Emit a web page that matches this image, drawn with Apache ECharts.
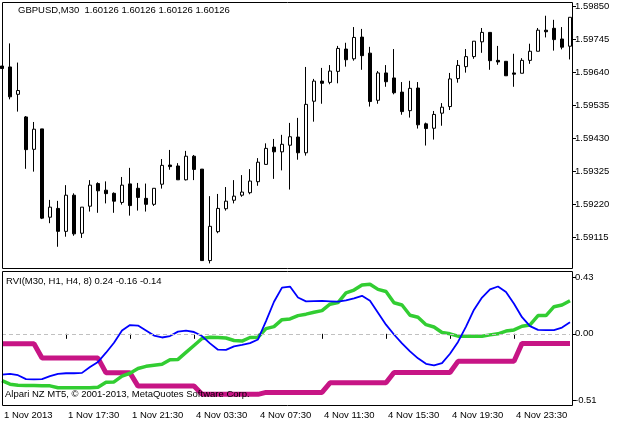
<!DOCTYPE html>
<html>
<head>
<meta charset="utf-8">
<script src="https://cdn.jsdelivr.net/npm/echarts@6/dist/echarts.min.js"></script>
<style>
html,body{margin:0;padding:0;background:#fff;}
#chart{width:621px;height:423px;}
</style>
</head>
<body>
<div id="chart"></div>
<script>
// Bar times (M30), 1 Nov 2013 13:30 .. 5 Nov 2013 03:00
const times = [
"1 Nov 13:30","1 Nov 14:00","1 Nov 14:30","1 Nov 15:00","1 Nov 15:30","1 Nov 16:00","1 Nov 16:30","1 Nov 17:00",
"1 Nov 17:30","1 Nov 18:00","1 Nov 18:30","1 Nov 19:00","1 Nov 19:30","1 Nov 20:00","1 Nov 20:30","1 Nov 21:00",
"1 Nov 21:30","4 Nov 00:00","4 Nov 00:30","4 Nov 01:00","4 Nov 01:30","4 Nov 02:00","4 Nov 02:30","4 Nov 03:00",
"4 Nov 03:30","4 Nov 04:00","4 Nov 04:30","4 Nov 05:00","4 Nov 05:30","4 Nov 06:00","4 Nov 06:30","4 Nov 07:00",
"4 Nov 07:30","4 Nov 08:00","4 Nov 08:30","4 Nov 09:00","4 Nov 09:30","4 Nov 10:00","4 Nov 10:30","4 Nov 11:00",
"4 Nov 11:30","4 Nov 12:00","4 Nov 12:30","4 Nov 13:00","4 Nov 13:30","4 Nov 14:00","4 Nov 14:30","4 Nov 15:00",
"4 Nov 15:30","4 Nov 16:00","4 Nov 16:30","4 Nov 17:00","4 Nov 17:30","4 Nov 18:00","4 Nov 18:30","4 Nov 19:00",
"4 Nov 19:30","4 Nov 20:00","4 Nov 20:30","4 Nov 21:00","4 Nov 21:30","4 Nov 22:00","4 Nov 22:30","4 Nov 23:00",
"4 Nov 23:30","5 Nov 00:00","5 Nov 00:30","5 Nov 01:00","5 Nov 01:30","5 Nov 02:00","5 Nov 02:30","5 Nov 03:00"
];
const timeTickLabels = ["1 Nov 2013","1 Nov 17:30","1 Nov 21:30","4 Nov 03:30","4 Nov 07:30","4 Nov 11:30","4 Nov 15:30","4 Nov 19:30","4 Nov 23:30"];

const opens = [1.59659,1.59656,1.59569,1.59497,1.59394,1.59459,1.59178,1.59206,1.59133,1.59248,
1.59127,1.59213,1.59285,1.59264,1.59254,1.59225,1.59284,1.59270,1.59238,1.59219,
1.59283,1.59344,1.59341,1.59297,1.59372,1.59331,1.59040,1.59132,1.59205,1.59232,
1.59248,1.59256,1.59291,1.59346,1.59401,1.59386,1.59407,1.59433,1.59383,1.59547,
1.59611,1.59607,1.59642,1.59713,1.59682,1.59751,1.59700,1.59550,1.59637,1.59621,
1.59576,1.59517,1.59589,1.59475,1.59461,1.59509,1.59530,1.59619,1.59657,1.59689,
1.59736,1.59766,1.59677,1.59674,1.59637,1.59636,1.59677,1.59706,1.59773,1.59779,
1.59745,1.59722];
const closes = [1.59651,1.59561,1.59581,1.59393,1.59458,1.59175,1.59210,1.59133,1.59248,1.59125,
1.59210,1.59280,1.59262,1.59253,1.59229,1.59280,1.59215,1.59241,1.59219,1.59270,
1.59343,1.59339,1.59297,1.59372,1.59330,1.59040,1.59149,1.59206,1.59229,1.59245,
1.59258,1.59293,1.59353,1.59397,1.59386,1.59410,1.59434,1.59383,1.59537,1.59611,
1.59604,1.59643,1.59715,1.59679,1.59750,1.59692,1.59546,1.59637,1.59609,1.59574,
1.59514,1.59588,1.59472,1.59460,1.59505,1.59528,1.59618,1.59661,1.59689,1.59738,
1.59766,1.59676,1.59672,1.59628,1.59633,1.59677,1.59706,1.59773,1.59768,1.59743,
1.59719,1.59814];
const lows = [1.59651,1.59553,1.59514,1.59332,1.59323,1.59172,1.59159,1.59084,1.59116,1.59119,
1.59112,1.59196,1.59192,1.59222,1.59192,1.59218,1.59183,1.59199,1.59196,1.59214,
1.59269,1.59329,1.59297,1.59295,1.59296,1.59040,1.59031,1.59127,1.59199,1.59222,
1.59243,1.59251,1.59278,1.59346,1.59300,1.59327,1.59266,1.59361,1.59374,1.59482,
1.59539,1.59601,1.59604,1.59657,1.59676,1.59647,1.59530,1.59539,1.59593,1.59569,
1.59504,1.59495,1.59460,1.59406,1.59425,1.59469,1.59519,1.59606,1.59638,1.59682,
1.59701,1.59647,1.59663,1.59628,1.59593,1.59636,1.59666,1.59706,1.59750,1.59708,
1.59712,1.59680];
const highs = [1.59659,1.59731,1.59670,1.59500,1.59481,1.59459,1.59233,1.59230,1.59280,1.59254,
1.59210,1.59296,1.59289,1.59292,1.59257,1.59306,1.59335,1.59287,1.59285,1.59270,
1.59363,1.59392,1.59350,1.59389,1.59376,1.59331,1.59245,1.59252,1.59274,1.59296,
1.59312,1.59331,1.59366,1.59413,1.59427,1.59440,1.59478,1.59494,1.59656,1.59618,
1.59653,1.59662,1.59723,1.59733,1.59783,1.59777,1.59720,1.59643,1.59662,1.59713,
1.59608,1.59612,1.59608,1.59479,1.59516,1.59541,1.59637,1.59678,1.59713,1.59738,
1.59780,1.59766,1.59723,1.59674,1.59698,1.59684,1.59730,1.59780,1.59819,1.59806,
1.59783,1.59814];
const priceTicks = [1.59850,1.59745,1.59640,1.59535,1.59430,1.59325,1.59220,1.59115];

const rviM30 = [-0.312,-0.305,-0.316,-0.346,-0.348,-0.346,-0.323,-0.305,-0.301,-0.301,
-0.298,-0.253,-0.215,-0.144,-0.068,0.025,0.067,0.063,0.025,-0.013,
-0.028,-0.017,0.017,0.025,0.014,-0.017,-0.073,-0.121,-0.123,-0.096,
-0.085,-0.071,-0.043,0.097,0.245,0.353,0.361,0.277,0.248,0.250,
0.251,0.248,0.245,0.255,0.271,0.290,0.252,0.161,0.070,-0.005,
-0.073,-0.134,-0.187,-0.229,-0.240,-0.223,-0.152,-0.062,0.055,0.184,
0.277,0.339,0.361,0.320,0.230,0.127,0.059,0.030,0.029,0.029,
0.048,0.088];
const rviH1 = [-0.358,-0.384,-0.392,-0.394,-0.395,-0.397,-0.397,-0.412,-0.412,-0.412,
-0.412,-0.412,-0.407,-0.369,-0.367,-0.323,-0.301,-0.265,-0.248,-0.240,
-0.233,-0.197,-0.195,-0.142,-0.089,-0.036,-0.026,-0.028,-0.032,-0.051,
-0.055,-0.028,-0.026,0.040,0.055,0.108,0.114,0.139,0.150,0.165,
0.177,0.226,0.239,0.313,0.334,0.373,0.379,0.339,0.323,0.237,
0.220,0.142,0.127,0.070,0.052,0.010,0.000,-0.018,-0.018,-0.018,
-0.018,-0.008,0.000,0.021,0.030,0.058,0.068,0.139,0.139,0.207,
0.220,0.252];
const rviH4 = [-0.076,-0.076,-0.076,-0.076,-0.076,-0.185,-0.185,-0.185,-0.185,-0.185,
-0.185,-0.185,-0.185,-0.298,-0.298,-0.298,-0.298,-0.399,-0.399,-0.399,
-0.399,-0.399,-0.399,-0.399,-0.399,-0.462,-0.462,-0.462,-0.462,-0.462,
-0.462,-0.462,-0.462,-0.447,-0.447,-0.447,-0.447,-0.447,-0.447,-0.447,
-0.447,-0.374,-0.374,-0.374,-0.374,-0.374,-0.374,-0.374,-0.374,-0.295,
-0.295,-0.295,-0.295,-0.295,-0.295,-0.295,-0.295,-0.210,-0.210,-0.210,
-0.210,-0.210,-0.210,-0.210,-0.210,-0.073,-0.073,-0.073,-0.073,-0.073,
-0.073,-0.073];
const rviTicks = [0.43, 0.00, -0.51];

const candleData = opens.map((o, i) => [o, closes[i], lows[i], highs[i]]);
const FONT = '"Liberation Sans", Arial, sans-serif';
const every8 = (idx) => idx % 8 === 0;

const chart = echarts.init(document.getElementById('chart'), null, {renderer: 'canvas'});
chart.setOption({
  animation: false,
  backgroundColor: '#ffffff',
  grid: [
    {left: 2, right: 51, top: 2, height: 266},
    {left: 2, right: 51, top: 271, height: 134}
  ],
  xAxis: [
    {type: 'category', gridIndex: 0, data: times, boundaryGap: false, show: false},
    {type: 'category', gridIndex: 1, data: times, boundaryGap: false,
     axisLine: {show: false},
     axisTick: {show: true, interval: every8, length: 5, lineStyle: {color: '#000', width: 1}},
     axisLabel: {interval: every8, align: 'left', margin: 5, padding: [0, 0, 0, 2],
       color: '#000', fontSize: 9.5, fontFamily: FONT,
       formatter: (v, idx) => timeTickLabels[idx / 8] || ''},
     splitLine: {show: false}}
  ],
  yAxis: [
    {type: 'value', gridIndex: 0, position: 'right', offset: 2,
     min: 1.590164, max: 1.598627, scale: true,
     splitLine: {show: false}, axisLine: {show: false},
     axisTick: {show: true, customValues: priceTicks, length: 4, lineStyle: {color: '#000'}},
     axisLabel: {customValues: priceTicks, margin: 3, color: '#000', fontSize: 9.5, fontFamily: FONT,
       formatter: v => v.toFixed(5)}},
    {type: 'value', gridIndex: 1, position: 'right', offset: 2,
     min: -0.5432, max: 0.4795,
     splitLine: {show: false}, axisLine: {show: false},
     axisTick: {show: true, customValues: rviTicks, length: 4, lineStyle: {color: '#000'}},
     axisLabel: {customValues: rviTicks, margin: 3, color: '#000', fontSize: 9.5, fontFamily: FONT,
       formatter: v => v.toFixed(2)}}
  ],
  series: [
    {type: 'candlestick', xAxisIndex: 0, yAxisIndex: 0, data: candleData, barWidth: 4, clip: false,
     itemStyle: {color: '#ffffff', color0: '#000000', borderColor: '#000000', borderColor0: '#000000', borderWidth: 1}},
    {type: 'line', xAxisIndex: 1, yAxisIndex: 1, data: rviH4, symbol: 'none', z: 2,
     lineStyle: {color: '#c71585', width: 5},
     markLine: {silent: true, symbol: 'none', label: {show: false},
       lineStyle: {color: '#c0c0c0', type: [4, 3], width: 1}, data: [{yAxis: 0}]}},
    {type: 'line', xAxisIndex: 1, yAxisIndex: 1, data: rviH1, symbol: 'none', z: 3,
     lineStyle: {color: '#32cd32', width: 3.5}},
    {type: 'line', xAxisIndex: 1, yAxisIndex: 1, data: rviM30, symbol: 'none', z: 4,
     lineStyle: {color: '#0000ff', width: 1.8}}
  ],
  graphic: [
    {type: 'rect', silent: true, z: 100, shape: {x: 2.5, y: 2.5, width: 570, height: 266},
     style: {fill: 'none', stroke: '#000', lineWidth: 1}},
    {type: 'rect', silent: true, z: 100, shape: {x: 2.5, y: 271.5, width: 570, height: 134},
     style: {fill: 'none', stroke: '#000', lineWidth: 1}},
    {type: 'text', silent: true, z: 101, x: 18, y: 10,
     style: {text: 'GBPUSD,M30  1.60126 1.60126 1.60126 1.60126', fill: '#000', font: '9.5px ' + FONT, verticalAlign: 'middle'}},
    {type: 'text', silent: true, z: 101, x: 6, y: 281,
     style: {text: 'RVI(M30, H1, H4, 8) 0.24 -0.16 -0.14', fill: '#000', font: '9.5px ' + FONT, verticalAlign: 'middle'}},
    {type: 'text', silent: true, z: 101, x: 5, y: 394.5,
     style: {text: 'Alpari NZ MT5, © 2001-2013, MetaQuotes Software Corp.', fill: '#000', font: '9.5px ' + FONT, verticalAlign: 'middle'}}
  ]
});
</script>
</body>
</html>
